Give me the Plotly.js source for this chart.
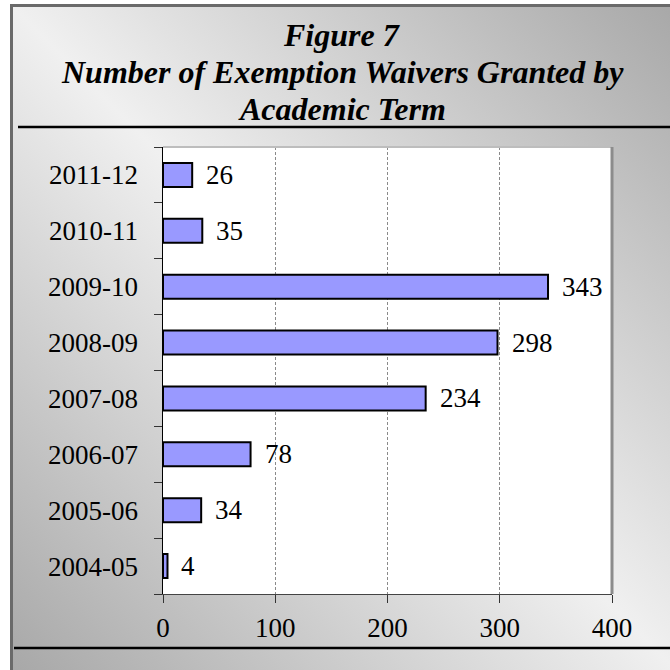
<!DOCTYPE html>
<html>
<head>
<meta charset="utf-8">
<script src="https://cdn.plot.ly/plotly-3.0.1.min.js"></script>
<style>
  html, body { margin: 0; padding: 0; background: #ffffff; }
  #wrap { position: relative; width: 670px; height: 670px; overflow: hidden; }
  #bg {
    position: absolute; left: 10px; top: 4px; width: 680px; height: 680px;
    border-left: 3px solid #6a6a6a; border-top: 3px solid #6a6a6a;
    background: linear-gradient(to top right, #a6a6a6 0%, #f0f0f0 50%, #a6a6a6 100%);
  }
  #chart { position: absolute; left: 0; top: 0; width: 670px; height: 670px; }
</style>
</head>
<body>
<div id="wrap">
  <div id="bg"></div>
  <div id="chart"></div>
</div>
<script>
const terms = ['2004-05', '2005-06', '2006-07', '2007-08', '2008-09', '2009-10', '2010-11', '2011-12'];
const waivers = [4, 34, 78, 234, 298, 343, 35, 26];
const xTicks = [0, 100, 200, 300, 400];
const titleLines = ['Figure 7', 'Number of Exemption Waivers Granted by', 'Academic Term'];

const serif = 'Liberation Serif, Times New Roman, serif';

const trace = {
  type: 'bar',
  orientation: 'h',
  x: waivers,
  y: terms,
  marker: { color: '#9999ff', line: { color: '#000000', width: 2 } },
  hoverinfo: 'none'
};

const labelAnns = waivers.map((v, i) => ({
  x: v, y: terms[i], xref: 'x', yref: 'y',
  text: String(v), showarrow: false,
  xanchor: 'left', yanchor: 'middle', xshift: 12,
  font: { family: serif, size: 27, color: '#000' }
}));

// title line centres in pixels from the top of the page
const titleY = [35, 72, 109];
const titleAnns = titleLines.map((t, i) => ({
  xref: 'paper', yref: 'paper',
  x: (342 - 163) / 449, y: (670 - 76 - titleY[i]) / 447,
  text: t, showarrow: false, xanchor: 'center', yanchor: 'middle',
  font: { family: serif, size: 32, color: '#000', weight: 'bold', style: 'italic' }
}));

const layout = {
  width: 670, height: 670,
  margin: { l: 163, r: 58, t: 147, b: 76, pad: 0 },
  paper_bgcolor: 'rgba(0,0,0,0)',
  plot_bgcolor: '#ffffff',
  showlegend: false,
  bargap: 0.57,
  xaxis: {
    range: [0, 400],
    tickvals: xTicks,
    ticktext: xTicks.map(String),
    ticks: 'outside', ticklen: 8, tickcolor: '#333', tickwidth: 1,
    ticklabelstandoff: 2,
    showline: true, linecolor: '#444', linewidth: 1,
    showgrid: true, gridcolor: '#8a8a8a', gridwidth: 1, griddash: '3px,2px',
    zeroline: false,
    tickfont: { family: serif, size: 27, color: '#000' },
    fixedrange: true
  },
  yaxis: {
    type: 'category',
    categoryorder: 'array', categoryarray: terms,
    ticks: 'outside', ticklen: 8, tickcolor: '#333', tickwidth: 1,
    tickson: 'boundaries',
    ticklabelstandoff: 18,
    showline: true, linecolor: '#000', linewidth: 1.5,
    showgrid: false, zeroline: false,
    tickfont: { family: serif, size: 27, color: '#000' },
    fixedrange: true
  },
  shapes: [
    { type: 'line', xref: 'paper', yref: 'paper', x0: 0, x1: 1, y0: 1, y1: 1,
      line: { color: '#bdbdbd', width: 2 } },
    { type: 'line', xref: 'paper', yref: 'paper', x0: 1, x1: 1, y0: 0, y1: 1,
      line: { color: '#8c8c8c', width: 3 } },
    { type: 'line', xref: 'paper', yref: 'paper', x0: (18 - 163) / 449, x1: (670 - 163) / 449,
      y0: (670 - 76 - 127) / 447, y1: (670 - 76 - 127) / 447,
      line: { color: '#000', width: 2.5 } },
    { type: 'line', xref: 'paper', yref: 'paper', x0: (14 - 163) / 449, x1: (670 - 163) / 449,
      y0: (670 - 76 - 648) / 447, y1: (670 - 76 - 648) / 447,
      line: { color: '#000', width: 2.5 } }
  ],
  annotations: labelAnns.concat(titleAnns)
};

Plotly.newPlot('chart', [trace], layout, { displayModeBar: false, staticPlot: true });
</script>
</body>
</html>
